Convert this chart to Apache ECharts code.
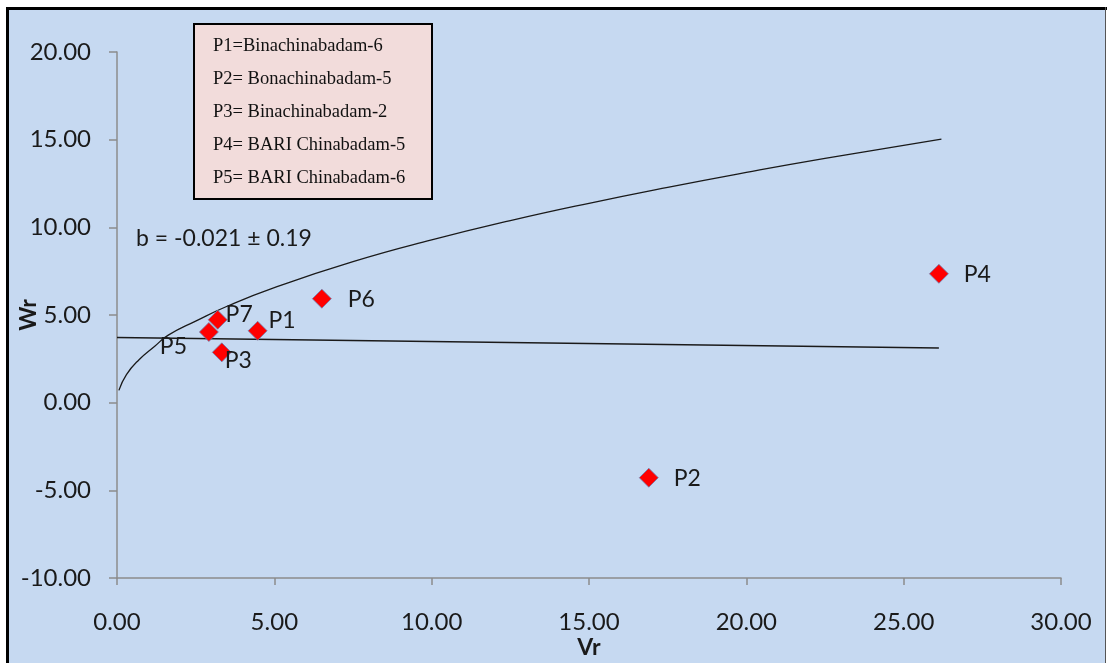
<!DOCTYPE html>
<html>
<head>
<meta charset="utf-8">
<script src="https://cdn.jsdelivr.net/npm/echarts@6/dist/echarts.min.js"></script>
<style>
html,body{margin:0;padding:0;background:#fff;}
#chart{width:1107px;height:663px;}
</style>
</head>
<body>
<div id="chart"></div>
<script>
// ---- data ----
const pointNames = ['P1', 'P2', 'P3', 'P4', 'P5', 'P6', 'P7'];
const vrValues   = [4.47, 16.90, 3.33, 26.12, 2.92, 6.51, 3.20];
const wrValues   = [4.10, -4.28, 2.87, 7.35, 4.03, 5.93, 4.73];

// regression line
const regVr = [0, 26.12];
const regWr = [3.72, 3.12];

// limiting parabola
const parabolaVr = [0.06, 0.3, 0.7, 1.2, 1.63, 2.5, 3.5, 5, 7.5, 10, 12.5, 15, 17.5, 20, 22.5, 26.2];
const parabolaWr = [0.70, 1.60, 2.45, 3.22, 3.85, 4.65, 5.50, 6.56, 8.04, 9.28, 10.38, 11.37, 12.28, 13.13, 13.93, 15.03];

const xMin = 0, xMax = 30, xStep = 5;
const yMin = -10, yMax = 20, yStep = 5;

const legendLines = [
  'P1=Binachinabadam-6',
  'P2= Bonachinabadam-5',
  'P3= Binachinabadam-2',
  'P4= BARI Chinabadam-5',
  'P5= BARI Chinabadam-6'
];
const equationText = 'b = -0.021 \u00B1 0.19';
const xName = 'Vr', yName = 'Wr';

// ---- styling (label placement per point) ----
const labelPlacement = {
  P1: {position: 'right', offset: [1, -10]},
  P2: {position: 'right', offset: [15, 1]},
  P3: {position: 'right', offset: [-7, 8]},
  P4: {position: 'right', offset: [15, 1]},
  P5: {position: 'left',  offset: [-12, 15]},
  P6: {position: 'right', offset: [16, 1]},
  P7: {position: 'right', offset: [-2, -5]}
};

const FONT = 'Lato, "Open Sans", sans-serif';
const TXT = '#1a1a1a';

const scatterData = pointNames.map((n, i) => ({
  name: n,
  value: [vrValues[i], wrValues[i]],
  label: {
    show: true,
    formatter: n,
    position: labelPlacement[n].position,
    distance: 0,
    offset: labelPlacement[n].offset,
    color: TXT,
    fontFamily: FONT,
    fontSize: 23
  }
}));

const chart = echarts.init(document.getElementById('chart'), null, {renderer: 'canvas'});

const legendGraphics = legendLines.map((t, i) => ({
  type: 'text',
  left: 213,
  top: 37 + i * 32.8,
  style: {
    text: t,
    fill: '#111',
    font: '18.5px "Liberation Serif", "Times New Roman", serif'
  },
  z: 101
}));

chart.setOption({
  backgroundColor: '#c6d9f1',
  animation: false,
  grid: {left: 117, right: 46, top: 52, bottom: 85, containLabel: false, outerBoundsMode: 'none'},
  xAxis: {
    type: 'value',
    min: xMin, max: xMax, interval: xStep,
    name: xName,
    nameLocation: 'middle',
    nameGap: 58,
    nameMoveOverlap: false,
    nameTextStyle: {fontFamily: FONT, fontSize: 23, fontWeight: 'bold', color: TXT},
    axisLine: {show: true, onZero: false, lineStyle: {color: '#8c8c8c', width: 1.5}},
    axisTick: {show: true, length: 7, lineStyle: {color: '#8c8c8c', width: 1.5}},
    axisLabel: {formatter: v => v.toFixed(2), fontFamily: FONT, fontSize: 24, color: TXT, margin: 32},
    splitLine: {show: false}
  },
  yAxis: {
    type: 'value',
    min: yMin, max: yMax, interval: yStep,
    name: yName,
    nameLocation: 'middle',
    nameGap: 77,
    nameMoveOverlap: false,
    nameTextStyle: {fontFamily: FONT, fontSize: 23, fontWeight: 'bold', color: TXT},
    axisLine: {show: true, onZero: false, lineStyle: {color: '#8c8c8c', width: 1.5}},
    axisTick: {show: true, length: 8, lineStyle: {color: '#8c8c8c', width: 1.5}},
    axisLabel: {formatter: v => v.toFixed(2), fontFamily: FONT, fontSize: 24, color: TXT, margin: 26},
    splitLine: {show: false}
  },
  series: [
    {
      type: 'line',
      data: parabolaVr.map((x, i) => [x, parabolaWr[i]]),
      smooth: true,
      showSymbol: false,
      lineStyle: {color: '#1a1a1a', width: 1.3},
      z: 2
    },
    {
      type: 'line',
      data: regVr.map((x, i) => [x, regWr[i]]),
      showSymbol: false,
      lineStyle: {color: '#1a1a1a', width: 1.5},
      z: 2
    },
    {
      type: 'scatter',
      data: scatterData,
      symbol: 'diamond',
      symbolSize: 19,
      itemStyle: {color: '#ff0000', opacity: 1, borderColor: '#6f7fb0', borderWidth: 0.8},
      z: 3
    }
  ],
  graphic: [
    // outer frame
    {type: 'rect', shape: {x: 0, y: 0, width: 1107, height: 7}, style: {fill: '#fff'}, z: 100},
    {type: 'rect', shape: {x: 0, y: 0, width: 6, height: 663}, style: {fill: '#fff'}, z: 100},
    {type: 'rect', shape: {x: 1106, y: 0, width: 1, height: 663}, style: {fill: '#fff'}, z: 100},
    {type: 'line', shape: {x1: 6, y1: 8.5, x2: 1107, y2: 8.5}, style: {stroke: '#000', lineWidth: 3}, z: 100},
    {type: 'line', shape: {x1: 7.5, y1: 7, x2: 7.5, y2: 663}, style: {stroke: '#000', lineWidth: 3}, z: 100},
    {type: 'line', shape: {x1: 1105.5, y1: 7, x2: 1105.5, y2: 663}, style: {stroke: '#555', lineWidth: 1}, z: 100},
    // legend box
    {type: 'rect', shape: {x: 194, y: 24, width: 238, height: 175},
     style: {fill: '#f2dcdb', stroke: '#000', lineWidth: 2}, z: 100},
    ...legendGraphics,
    // equation
    {type: 'text', left: 136, top: 227,
     style: {text: equationText, fill: TXT, font: '23px Lato, "Open Sans", sans-serif'}, z: 100}
  ]
});
</script>
</body>
</html>
